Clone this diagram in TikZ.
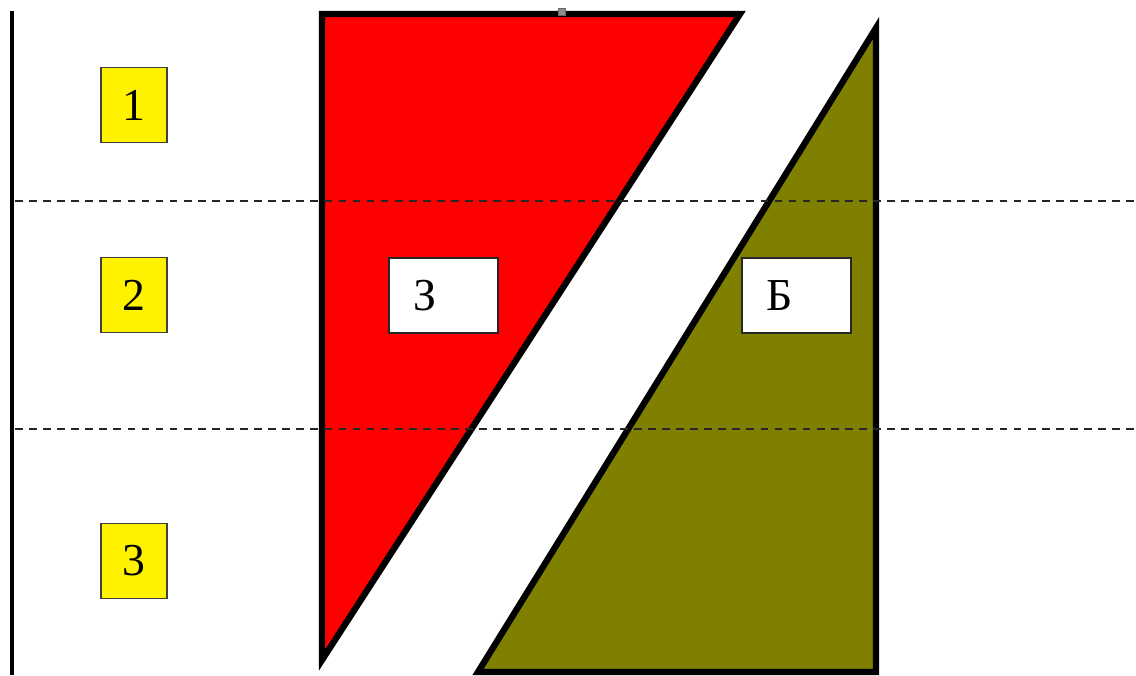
\documentclass[tikz,border=0pt]{standalone}
\usepackage{fontspec}
\setmainfont{Liberation Serif}
\usepackage{xcolor}
\usetikzlibrary{positioning}
\definecolor{rojocuña}{RGB}{255,0,0}
\definecolor{olivacuña}{RGB}{128,128,0}

\begin{document}
\begin{tikzpicture}[x=0.01cm, y=-0.01cm,
      capa/.style={draw=black!75, line width=0.5pt, fill=yellow,
                   minimum width=0.66cm, minimum height=0.75cm,
                   inner sep=0pt, font=\fontsize{13}{15}\selectfont},
      etiq/.style={draw=black!85, line width=0.6pt, fill=white,
                   minimum height=0.75cm, text width=0.59cm, align=left,
                   inner xsep=0.25cm, inner ysep=0pt,
                   font=\fontsize{13}{15}\selectfont},
      cuna/.style={draw=black, line width=1.8pt, line join=miter},
      limite/.style={black!85, line width=0.6pt, dash pattern=on 2.2pt off 1.8pt}]
    \useasboundingbox (0,0) rectangle (1136,675);
    % eje vertical
    \coordinate (ejeA) at (12,11);
    \coordinate (ejeB) at (12,675);
    \draw[line width=1.2pt] (ejeA) -- (ejeB);
    % cunas
    \draw[cuna, fill=rojocuña] (322,14) -- (740,14) -- (322,660) -- cycle;
    \draw[cuna, fill=olivacuña] (876,28) -- (876,672) -- (478,672) -- cycle;
    \node[draw=black!60, fill=black!45, inner sep=0pt, minimum size=0.07cm]
          (marca) at (562,12) {};
    % limites entre capas
    \foreach \y/\n in {201/1,429/2} {
      \coordinate (L\n a) at (15,\y);
      \coordinate (L\n b) at (1136,\y);
      \draw[limite] (L\n a) -- (L\n b);
    }
    % capas numeradas
    \foreach \y/\n in {105/1,295/2,561/3} {
      \node[capa] (C\n) at (134,\y) {\n};
    }
    \node[etiq] (E1) at (443.5,295.5) {З};
    \node[etiq] (E2) at (796.5,295.5) {Б};
  \end{tikzpicture}
\end{document}
